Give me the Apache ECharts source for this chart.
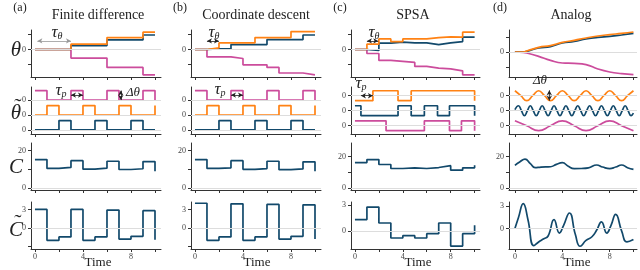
<!DOCTYPE html>
<html><head><meta charset="utf-8">
<script src="https://cdn.jsdelivr.net/npm/echarts@6/dist/echarts.min.js"></script>
<style>html,body{margin:0;padding:0;background:#fff}#c{width:640px;height:270px}</style>
</head><body><div id="c"></div><script>
// ---------------- data ----------------
const steps = [0,1,2,3,4,5,6,7,8,9,10];
const xTicks = [0,2,4,6,8,10];
const xTickLabels = [0,4,8];
const panelLetters = ['(a)','(b)','(c)','(d)'];
const panelTitles = ['Finite difference','Coordinate descent','SPSA','Analog'];
const rowLabels = ['θ','θ','C','C'];
const rowTilde = [false,true,false,true];
const timeLabel = 'Time';

// (a) finite difference
const a_theta_pink   = [0,0,0,-0.43,-0.43,-0.43,-0.9,-0.9,-0.9,-1.27,-1.27];
const a_theta_blue   = [0,0,0,0.2,0.2,0.2,0.48,0.48,0.48,0.73,0.73];
const a_theta_orange = [0,0,0,0.27,0.27,0.27,0.6,0.6,0.6,0.87,0.87];
const a_pert_pink    = [1,0,0,1,0,0,1,0,0,1,0];
const a_pert_orange  = [0,1,0,0,1,0,0,1,0,0,1];
const a_pert_blue    = [0,0,1,0,0,1,0,0,1,0,0];
const a_cost         = [15.2,10.5,11.0,14.6,10.1,10.6,14.3,9.9,10.3,14.1,9.0];
const a_costTilde    = [3.0,-2.0,-1.45,3.0,-2.0,-1.45,2.9,-1.8,-1.35,2.8,-1.9];

// (b) coordinate descent
const b_theta_pink   = [0,-0.37,-0.37,-0.45,-0.77,-0.77,-0.9,-1.18,-1.18,-1.27,-1.27];
const b_theta_blue   = [0,0.03,0.03,0.25,0.25,0.25,0.5,0.5,0.5,0.73,0.73];
const b_theta_orange = [0,0.08,0.33,0.33,0.33,0.6,0.6,0.6,0.9,0.9,0.9];
const b_pert_pink    = [1,0,0,1,0,0,1,0,0,1,0];
const b_pert_orange  = [0,1,0,0,1,0,0,1,0,0,1];
const b_pert_blue    = [0,0,1,0,0,1,0,0,1,0,0];
const b_cost         = [15.2,10.5,10.8,14.6,10.0,10.4,14.3,9.8,10.2,14.0,9.0];
const b_costTilde    = [4.0,-2.0,-1.45,3.9,-2.0,-1.45,3.8,-1.8,-1.35,3.75,-1.8];

// (c) SPSA
const c_theta_pink   = [0,-0.2,-0.55,-0.6,-0.65,-0.85,-0.93,-0.97,-1.07,-1.27,-1.27];
const c_theta_blue   = [0,-0.05,0.32,0.37,0.33,0.33,0.25,0.33,0.4,0.62,0.62];
const c_theta_orange = [0,0.27,0.53,0.4,0.53,0.53,0.6,0.63,0.62,0.87,0.87];
const c_pert_orange_t = [0,1.5,3.6,4.7,10];
const c_pert_orange   = [-1,1,-1,1,-1];
const c_pert_blue_t   = [0,0.5,3.6,4.7,5.8,6.9,7.9,10];
const c_pert_blue     = [1,-1,1,-1,1,-1,1,-1];
const c_pert_pink_t   = [0,2.6,5.8,7.9,8.9,10];
const c_pert_pink     = [1,-1,1,-1,1,-1];
const c_cost         = [16.1,18.0,14.9,12.4,12.8,12.4,13.0,14.2,11.3,12.8,14.4];
const c_costTilde    = [1.35,2.8,0.96,-0.77,-0.5,-0.77,-0.27,0.96,-1.7,-0.27,0.69];

// (d) analog
const d_theta_t      = [0,0.7,1,2,3,4,5,6,7,8,9,10];
const d_theta_pink   = [0,-0.02,-0.05,-0.22,-0.42,-0.55,-0.57,-0.63,-0.85,-1.0,-1.08,-1.13];
const d_theta_blue   = [0,0,0.03,0.2,0.27,0.45,0.53,0.65,0.73,0.78,0.85,0.93];
const d_theta_orange = [0,0,0.05,0.23,0.32,0.48,0.58,0.7,0.8,0.87,0.93,1.0];
const d_pert_orange_t = [0,0.5,1,1.5,2,2.5,3,3.5,4,4.5,5,5.5,6,6.5,7,7.5,8,8.5,9,9.5,10];
const d_pert_orange   = [1,0,-1,0,1,0,-1,0,1,0,-1,0,1,0,-1,0,1,0,-1,0,1];
const d_pert_blue_t   = [0,0.3,0.55,0.8,1.05,1.3,1.55,1.8,2.05,2.3,2.55,2.8,3.05,3.3,3.55,3.8,4.05,4.3,4.55,4.8,5.05,5.3,5.55,5.8,6.05,6.3,6.55,6.8,7.05,7.3,7.55,7.8,8.05,8.3,8.55,8.8,9.05,9.3,9.55,9.8,10];
const d_pert_blue     = [0.2,1,0,-1,0,1,0,-1,0,1,0,-1,0,1,0,-1,0,1,0,-1,0,1,0,-1,0,1,0,-1,0,1,0,-1,0,1,0,-1,0,1,0,-1,-0.5];
const d_pert_pink_t   = [0,1,2,3,4,5,6,7,8,9,10];
const d_pert_pink     = [1,0,-1,0,1,0,-1,0,1,0,-1];
const d_cost_t       = [0,0.4,0.85,1.3,1.7,2.2,3,3.5,4,4.5,5,5.6,6.2,6.9,7.4,8,8.5,9,9.5,10];
const d_cost         = [14.4,16.5,18.3,15.5,12.9,13.3,13.5,15.0,16.1,13.8,12.3,12.4,12.8,14.6,13.3,12.3,13.3,14.6,12.9,11.8];
const d_costTilde_t  = [0,0.3,0.7,1.1,1.6,2.0,2.4,2.8,3.3,3.75,4.1,4.6,5.1,5.5,6.0,6.5,6.9,7.3,7.75,8.1,8.5,9.0,9.45,10];
const d_costTilde    = [0,1.5,3.36,1.2,-2.3,-1.8,-1.4,-1.0,1.2,-0.6,0.4,2.1,-0.8,-2.38,-1.6,-1.1,-0.2,0.9,-0.6,0.4,1.9,-0.3,-1.8,-1.48];

// ---------------- layout / style ----------------
const FONT = '"Liberation Serif","Times New Roman","DejaVu Serif",serif';
const ORANGE = '#ff8214', NAVY = '#12496b', PINK = '#cc4c9c';
const AX = '#333';
const COLS = [{left:31,width:130,xmin:-0.33,xmax:10.5},{left:191,width:130,xmin:-0.33,xmax:10.5},{left:351,width:129,xmin:-0.33,xmax:10.45},{left:509,width:128,xmin:-0.5,xmax:10.3}];
const ROWS = [{top:30,height:47},{top:87,height:47},{top:143,height:47},{top:202,height:47}];
const STACK_AB = {pink:2, orange:1, blue:0, amp:0.63};
const STACK_CD = {orange:2, blue:1, pink:0, amp:0.33};

const zero = () => '0';
const Y = [
  [ {min:-1.38,max:0.98,ticks:[-0.75,0,0.75],labels:[0]}, {min:-0.27,max:2.87,ticks:[0,1,2],labels:[0,1,2],fmt:zero}, {min:-1,max:24,ticks:[0,10,20],labels:[0,20]}, {min:-3.4,max:4.2,ticks:[-3,0,3],labels:[0,3]} ],
  [ {min:-1.38,max:0.98,ticks:[-0.75,0,0.75],labels:[0]}, {min:-0.27,max:2.87,ticks:[0,1,2],labels:[0,1,2],fmt:zero}, {min:-1,max:24,ticks:[0,10,20],labels:[0,20]}, {min:-3.4,max:4.2,ticks:[-3,0,3],labels:[0,3]} ],
  [ {min:-1.38,max:0.98,ticks:[-0.75,0,0.75],labels:[0]}, {min:-0.55,max:2.58,ticks:[0,1,2],labels:[0,1,2],fmt:zero}, {min:-1.2,max:28.5,ticks:[0,10,20],labels:[0,20]}, {min:-2.04,max:3.38,ticks:[0,3],labels:[0,3]} ],
  [ {min:-1.25,max:1.1,ticks:[-0.75,0,0.75],labels:[0]}, {min:-0.55,max:2.58,ticks:[0,1,2],labels:[0,1,2],fmt:zero}, {min:-1.2,max:28.5,ticks:[0,10,20],labels:[0,20]}, {min:-2.75,max:3.58,ticks:[0,3],labels:[0,3]} ]
];
const ZERO_LINES = [[0],[0,1,2],[0],[0]];

const grids=[], xAxes=[], yAxes=[], series=[];
const gi = (c,r) => c*4+r;
for (let c=0;c<4;c++) for (let r=0;r<4;r++) {
  const g = gi(c,r), C = COLS[c], R = ROWS[r], y = Y[c][r];
  grids.push({left:C.left, top:R.top, width:C.width, height:R.height});
  xAxes.push({type:'value', gridIndex:g, min:C.xmin, max:C.xmax,
    axisLine:{show:true,onZero:false,lineStyle:{color:AX,width:1}},
    axisTick:{show:true,length:3,customValues:xTicks,lineStyle:{color:AX}},
    axisLabel:{show:r===3,customValues:xTickLabels,fontSize:8,fontFamily:FONT,color:'#444',margin:4},
    splitLine:{show:false}});
  yAxes.push({type:'value', gridIndex:g, min:y.min, max:y.max,
    axisLine:{show:true,onZero:false,lineStyle:{color:AX,width:1}},
    axisTick:{show:true,length:3,customValues:y.ticks,lineStyle:{color:AX}},
    axisLabel:{show:true,customValues:y.labels,formatter:y.fmt||(v=>String(v)),fontSize:8,fontFamily:FONT,color:'#444',margin:5},
    splitLine:{show:false}});
  series.push({type:'line', xAxisIndex:g, yAxisIndex:g, data:[], z:1, silent:true,
    markLine:{silent:true, symbol:'none', label:{show:false}, animation:false,
      lineStyle:{color:'#dddddd',width:1,type:'solid'}, data:ZERO_LINES[r].map(v=>({yAxis:v}))}});
}

function pairs(ts, vs, off, amp){ return ts.map((t,i)=>[t, (off||0) + (amp===undefined?1:amp)*vs[i]]); }
function addLine(g, data, color, opt){
  series.push(Object.assign({type:'line', xAxisIndex:g, yAxisIndex:g, data, showSymbol:false, symbol:'none',
    lineStyle:{color, width:1.7}, itemStyle:{color}, z:3, silent:true, animation:false}, opt||{}));
}
const STEP = {step:'end'};
const SMOOTH = {smooth:0.5};

addLine(gi(0,0), pairs(steps,a_theta_pink), PINK, STEP);
addLine(gi(0,0), pairs(steps,a_theta_blue), NAVY, STEP);
addLine(gi(0,0), pairs(steps,a_theta_orange), ORANGE, STEP);
addLine(gi(0,1), pairs(steps,a_pert_pink,STACK_AB.pink,STACK_AB.amp), PINK, STEP);
addLine(gi(0,1), pairs(steps,a_pert_orange,STACK_AB.orange,STACK_AB.amp), ORANGE, STEP);
addLine(gi(0,1), pairs(steps,a_pert_blue,STACK_AB.blue,STACK_AB.amp), NAVY, STEP);
addLine(gi(0,2), pairs(steps,a_cost), NAVY, STEP);
addLine(gi(0,3), pairs(steps,a_costTilde), NAVY, STEP);

addLine(gi(1,0), pairs(steps,b_theta_pink), PINK, STEP);
addLine(gi(1,0), pairs(steps,b_theta_blue), NAVY, STEP);
addLine(gi(1,0), pairs(steps,b_theta_orange), ORANGE, STEP);
addLine(gi(1,1), pairs(steps,b_pert_pink,STACK_AB.pink,STACK_AB.amp), PINK, STEP);
addLine(gi(1,1), pairs(steps,b_pert_orange,STACK_AB.orange,STACK_AB.amp), ORANGE, STEP);
addLine(gi(1,1), pairs(steps,b_pert_blue,STACK_AB.blue,STACK_AB.amp), NAVY, STEP);
addLine(gi(1,2), pairs(steps,b_cost), NAVY, STEP);
addLine(gi(1,3), pairs(steps,b_costTilde), NAVY, STEP);

addLine(gi(2,0), pairs(steps,c_theta_pink), PINK, STEP);
addLine(gi(2,0), pairs(steps,c_theta_blue), NAVY, STEP);
addLine(gi(2,0), pairs(steps,c_theta_orange), ORANGE, STEP);
addLine(gi(2,1), pairs(c_pert_orange_t,c_pert_orange,STACK_CD.orange,STACK_CD.amp), ORANGE, STEP);
addLine(gi(2,1), pairs(c_pert_blue_t,c_pert_blue,STACK_CD.blue,STACK_CD.amp), NAVY, STEP);
addLine(gi(2,1), pairs(c_pert_pink_t,c_pert_pink,STACK_CD.pink,STACK_CD.amp), PINK, STEP);
addLine(gi(2,2), pairs(steps,c_cost), NAVY, STEP);
addLine(gi(2,3), pairs(steps,c_costTilde), NAVY, STEP);

addLine(gi(3,0), pairs(d_theta_t,d_theta_pink), PINK, SMOOTH);
addLine(gi(3,0), pairs(d_theta_t,d_theta_blue), NAVY, SMOOTH);
addLine(gi(3,0), pairs(d_theta_t,d_theta_orange), ORANGE, SMOOTH);
addLine(gi(3,1), pairs(d_pert_orange_t,d_pert_orange,STACK_CD.orange,STACK_CD.amp), ORANGE, SMOOTH);
addLine(gi(3,1), pairs(d_pert_blue_t,d_pert_blue,STACK_CD.blue,STACK_CD.amp), NAVY, SMOOTH);
addLine(gi(3,1), pairs(d_pert_pink_t,d_pert_pink,STACK_CD.pink,STACK_CD.amp), PINK, SMOOTH);
addLine(gi(3,2), pairs(d_cost_t,d_cost), NAVY, SMOOTH);
addLine(gi(3,3), pairs(d_costTilde_t,d_costTilde), NAVY, SMOOTH);

function arrow(g, p1, p2, color){
  series.push({type:'line', xAxisIndex:g, yAxisIndex:g, data:[], z:4, silent:true,
    markLine:{silent:true, symbol:['arrow','arrow'], symbolSize:[4,5], label:{show:false}, animation:false,
      lineStyle:{color:color||'#222',width:0.8,type:'solid'}, data:[[{coord:p1},{coord:p2}]]}});
}
arrow(gi(0,0),[0.2,0.43],[3,0.43],'#999');
arrow(gi(1,0),[1,0.43],[2,0.43]);
arrow(gi(2,0),[1,0.43],[1.95,0.43]);
arrow(gi(0,1),[3,2.33],[4,2.33]);
arrow(gi(0,1),[7.15,2.0],[7.15,2.63]);
arrow(gi(1,1),[3,2.33],[4,2.33]);
arrow(gi(2,1),[0.5,2.0],[1.5,2.0]);
arrow(gi(3,1),[2.9,1.67],[2.9,2.36]);

const graphic = [];
function txt(x,y,text,size,extra){ graphic.push({type:'text', x, y, silent:true, z:10,
  style:Object.assign({text, fontSize:size, fontFamily:FONT, fill:'#222', align:'center', verticalAlign:'middle'}, extra||{})}); }
[[20,8],[180,8],[340,8],[500,8]].forEach((p,i)=>txt(p[0],p[1],panelLetters[i],12));
[[98,15],[256,15],[413,15],[571,15]].forEach((p,i)=>txt(p[0],p[1],panelTitles[i],14));
const rowPos = [[16,50],[16,113],[16,167],[16,230]];
const tildeDy = [0,-6,0,-7];
rowPos.forEach((p,i)=>{
  txt(p[0],p[1],rowLabels[i],21,{fontStyle:'italic'});
  if (rowTilde[i]) txt(p[0]+2,p[1]+tildeDy[i],'˜',22,{fontStyle:'normal'});
});
[[98,263],[257,263],[418,263],[577,263]].forEach(p=>txt(p[0],p[1],timeLabel,13));
const sub = (main, s) => ({text:'{m|'+main+'}{s|'+s+'}', rich:{
  m:{fontSize:17,fontStyle:'italic',fontFamily:FONT,fill:'#222',verticalAlign:'bottom',lineHeight:18},
  s:{fontSize:10,fontStyle:'italic',fontFamily:FONT,fill:'#222',verticalAlign:'bottom',lineHeight:14}}});
function rtxt(x,y,st){ graphic.push({type:'text',x,y,silent:true,z:10,style:Object.assign({align:'center',verticalAlign:'middle'},st)}); }
rtxt(57,32,sub('τ','θ'));
rtxt(214,32,sub('τ','θ'));
rtxt(374,32,sub('τ','θ'));
rtxt(61,90,sub('τ','p'));
rtxt(220,89,sub('τ','p'));
rtxt(361,83,sub('τ','p'));
txt(133,93,'Δθ',13,{fontStyle:'italic'});
txt(540,81,'Δθ',13,{fontStyle:'italic'});

const chart = echarts.init(document.getElementById('c'), null, {renderer:'canvas', width:640, height:270});
chart.setOption({animation:false, backgroundColor:'#fff', grid:grids, xAxis:xAxes, yAxis:yAxes, series, graphic});
</script></body></html>
